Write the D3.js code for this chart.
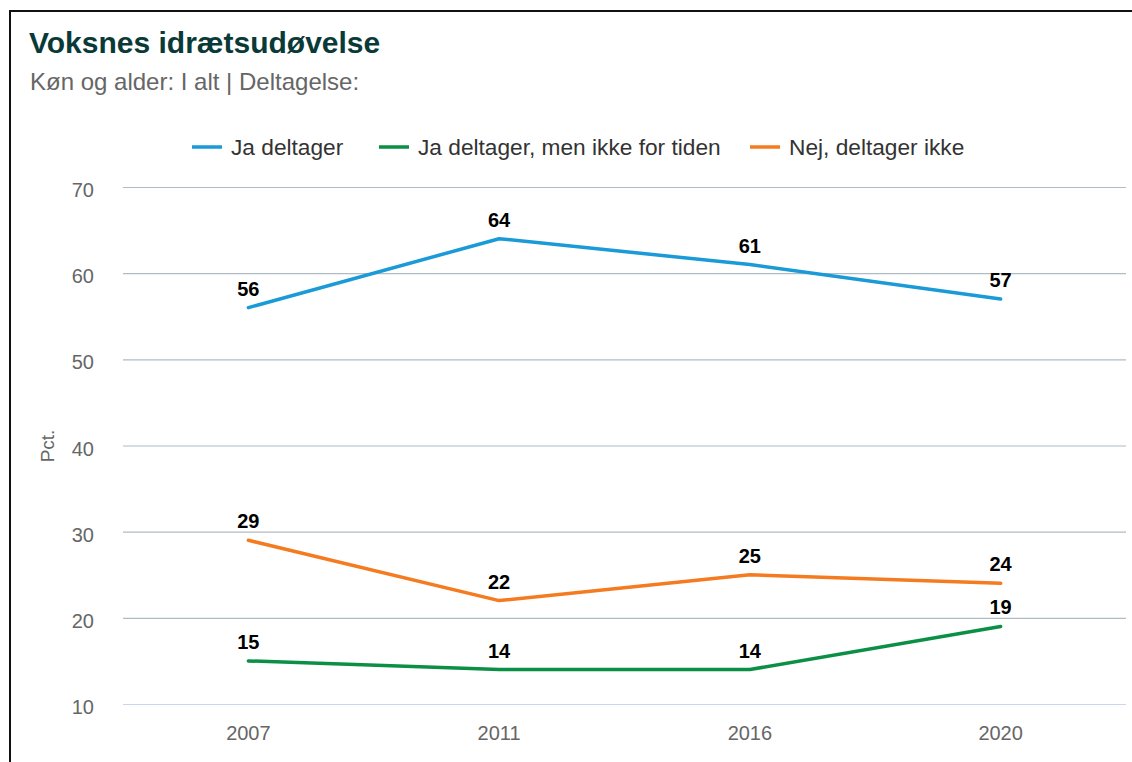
<!DOCTYPE html>
<html>
<head>
<meta charset="utf-8">
<script src="https://cdn.jsdelivr.net/npm/d3@7"></script>
<style>
  body { margin: 0; background: #fff; }
  svg { display: block; font-family: "Liberation Sans", Arial, sans-serif; }
</style>
</head>
<body>
<div id="chart"></div>
<script>
var years = ["2007", "2011", "2016", "2020"];
var seriesNames = ["Ja deltager", "Ja deltager, men ikke for tiden", "Nej, deltager ikke"];
var jaValues = [56, 64, 61, 57];
var jaMenValues = [15, 14, 14, 19];
var nejValues = [29, 22, 25, 24];
var yTicks = [10, 20, 30, 40, 50, 60, 70];
var colors = ["#1a9ad6", "#0b8f45", "#f47b20"];

var width = 1132, height = 762;

var series = [
  {name: seriesNames[0], values: jaValues, color: colors[0]},
  {name: seriesNames[1], values: jaMenValues, color: colors[1]},
  {name: seriesNames[2], values: nejValues, color: colors[2]}
];

var svg = d3.select("#chart").append("svg")
  .attr("width", width)
  .attr("height", height);

// frame
svg.append("rect")
  .attr("x", 10).attr("y", 11)
  .attr("width", 1130).attr("height", 760)
  .attr("fill", "none")
  .attr("stroke", "#111")
  .attr("stroke-width", 2);

svg.append("text")
  .attr("x", 29).attr("y", 53)
  .style("font-size", "30px")
  .style("font-weight", "bold")
  .style("fill", "#0a3a38")
  .text("Voksnes idrætsudøvelse");

svg.append("text")
  .attr("x", 30).attr("y", 90)
  .style("font-size", "24px")
  .style("fill", "#666")
  .text("Køn og alder: I alt | Deltagelse:");

var x = d3.scalePoint().domain(years).range([123, 1126]).padding(0.5);
var y = d3.scaleLinear().domain([10, 70]).range([704, 187]);

// grid
svg.append("g").selectAll("line")
  .data(yTicks)
  .enter().append("line")
  .attr("x1", 123).attr("x2", 1126)
  .attr("y1", function(d) { return y(d) + 0.5; })
  .attr("y2", function(d) { return y(d) + 0.5; })
  .attr("stroke", function(d) { return d == 10 ? "#ccd6eb" : "#aebcc6"; })
  .attr("stroke-width", 1.2);

svg.append("g").selectAll("text")
  .data(yTicks)
  .enter().append("text")
  .attr("x", 94)
  .attr("y", function(d) { return y(d) + 10; })
  .attr("text-anchor", "end")
  .style("font-size", "20px")
  .style("fill", "#666")
  .text(function(d) { return d; });

svg.append("g").selectAll("text")
  .data(years)
  .enter().append("text")
  .attr("x", function(d) { return x(d); })
  .attr("y", 740)
  .attr("text-anchor", "middle")
  .style("font-size", "20px")
  .style("fill", "#666")
  .text(function(d) { return d; });

svg.append("text")
  .attr("transform", "translate(54,446) rotate(-90)")
  .attr("text-anchor", "middle")
  .style("font-size", "19px")
  .style("fill", "#666")
  .text("Pct.");

var line = d3.line()
  .x(function(d, i) { return x(years[i]); })
  .y(function(d) { return y(d); });

var g = svg.selectAll("g.series")
  .data(series)
  .enter().append("g")
  .attr("class", "series");

g.append("path")
  .attr("d", function(s) { return line(s.values); })
  .attr("fill", "none")
  .attr("stroke", function(s) { return s.color; })
  .attr("stroke-width", 3.5)
  .attr("stroke-linejoin", "round")
  .attr("stroke-linecap", "round");

g.selectAll("text")
  .data(function(s) { return s.values; })
  .enter().append("text")
  .attr("x", function(d, i) { return x(years[i]); })
  .attr("y", function(d) { return y(d) - 12; })
  .attr("text-anchor", "middle")
  .style("font-size", "20px")
  .style("font-weight", "bold")
  .style("fill", "#000")
  .text(function(d) { return d; });

// legend
var legendX = [192, 379, 750];
var legend = svg.selectAll("g.legend")
  .data(series)
  .enter().append("g")
  .attr("class", "legend")
  .attr("transform", function(d, i) { return "translate(" + legendX[i] + ",147)"; });

legend.append("line")
  .attr("x1", 0).attr("x2", 30)
  .attr("stroke", function(d) { return d.color; })
  .attr("stroke-width", 3.5);

legend.append("text")
  .attr("x", 39).attr("y", 8)
  .style("font-size", "22.7px")
  .style("fill", "#333")
  .text(function(d) { return d.name; });
</script>
</body>
</html>
